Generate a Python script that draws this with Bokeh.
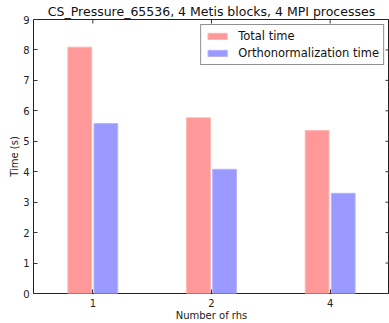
import math
from bokeh.plotting import figure
from bokeh.models import FactorRange, Range1d, ColumnDataSource, Legend, LegendItem, FixedTicker
from bokeh.transform import dodge
from bokeh.embed import file_html
from bokeh.resources import INLINE

# ---- data ----
rhs = ["1", "2", "4"]
total_time = [8.09, 5.77, 5.35]
ortho_time = [5.58, 4.08, 3.29]
y_ticks = [0, 1, 2, 3, 4, 5, 6, 7, 8, 9]
title_text = "CS_Pressure_65536, 4 Metis blocks, 4 MPI processes"
series_names = ["Total time", "Orthonormalization time"]

FONT = "DejaVu Sans"
Y_MAX = y_ticks[-1]

src = ColumnDataSource(dict(rhs=rhs, total=total_time, ortho=ortho_time))

p = figure(width=389, height=323, output_backend="svg", toolbar_location=None,
           x_range=FactorRange(*rhs, range_padding=0), y_range=Range1d(0, Y_MAX),
           min_border_left=33, min_border_right=0, min_border_top=0, min_border_bottom=0)

p.title.text = title_text
p.title.align = "center"
p.title.text_font = FONT
p.title.text_font_size = "12.5px"
p.title.text_font_style = "normal"
p.title.text_color = "#111111"
p.title.standoff = 2

p.grid.visible = False
p.outline_line_color = "#222222"
p.outline_line_width = 1

for ax in (p.xaxis[0], p.yaxis[0]):
    ax.major_tick_in = 4
    ax.major_tick_out = 0
    ax.minor_tick_line_color = None
    ax.axis_line_color = None
    ax.major_tick_line_color = "#333333"
    ax.major_label_text_font = FONT
    ax.major_label_text_font_size = "10px"
    ax.major_label_text_color = "#222222"
    ax.axis_label_text_font = FONT
    ax.axis_label_text_font_size = "10px"
    ax.axis_label_text_font_style = "normal"
    ax.axis_label_text_color = "#222222"
    ax.major_label_standoff = 5
    ax.axis_label_standoff = 0

p.yaxis[0].major_label_standoff = 4
p.yaxis[0].ticker = FixedTicker(ticks=y_ticks)
p.xaxis[0].axis_label = "Number of rhs"
p.yaxis[0].axis_label = "Time (s)"

r1 = p.vbar(x=dodge("rhs", -0.11, range=p.x_range), top="total", width=0.2, source=src,
            fill_color="#ff9999", line_color="#ffb3b3", line_width=1)
r2 = p.vbar(x=dodge("rhs", 0.11, range=p.x_range), top="ortho", width=0.2, source=src,
            fill_color="#9999ff", line_color="#b3b3ff", line_width=1)

# inward tick marks on the top and right frame edges (half of each dash is clipped)
p.scatter(x=rhs, y=[Y_MAX] * len(rhs), marker="dash", angle=math.pi / 2, size=8,
          line_color="#333333", line_width=1)
p.scatter(x=[float(len(rhs))] * len(y_ticks), y=y_ticks, marker="dash", size=8,
          line_color="#333333", line_width=1)

legend = Legend(items=[LegendItem(label=series_names[0], renderers=[r1]),
                       LegendItem(label=series_names[1], renderers=[r2])],
                location="top_right", margin=5, padding=4, spacing=3,
                label_height=13, glyph_height=8, glyph_width=24, label_standoff=9,
                label_text_font=FONT, label_text_font_size="11.5px", label_text_color="#111111",
                border_line_color="#222222", border_line_width=1,
                background_fill_color="white", background_fill_alpha=1)
p.add_layout(legend)

open("out.html", "w").write(file_html(p, INLINE))
